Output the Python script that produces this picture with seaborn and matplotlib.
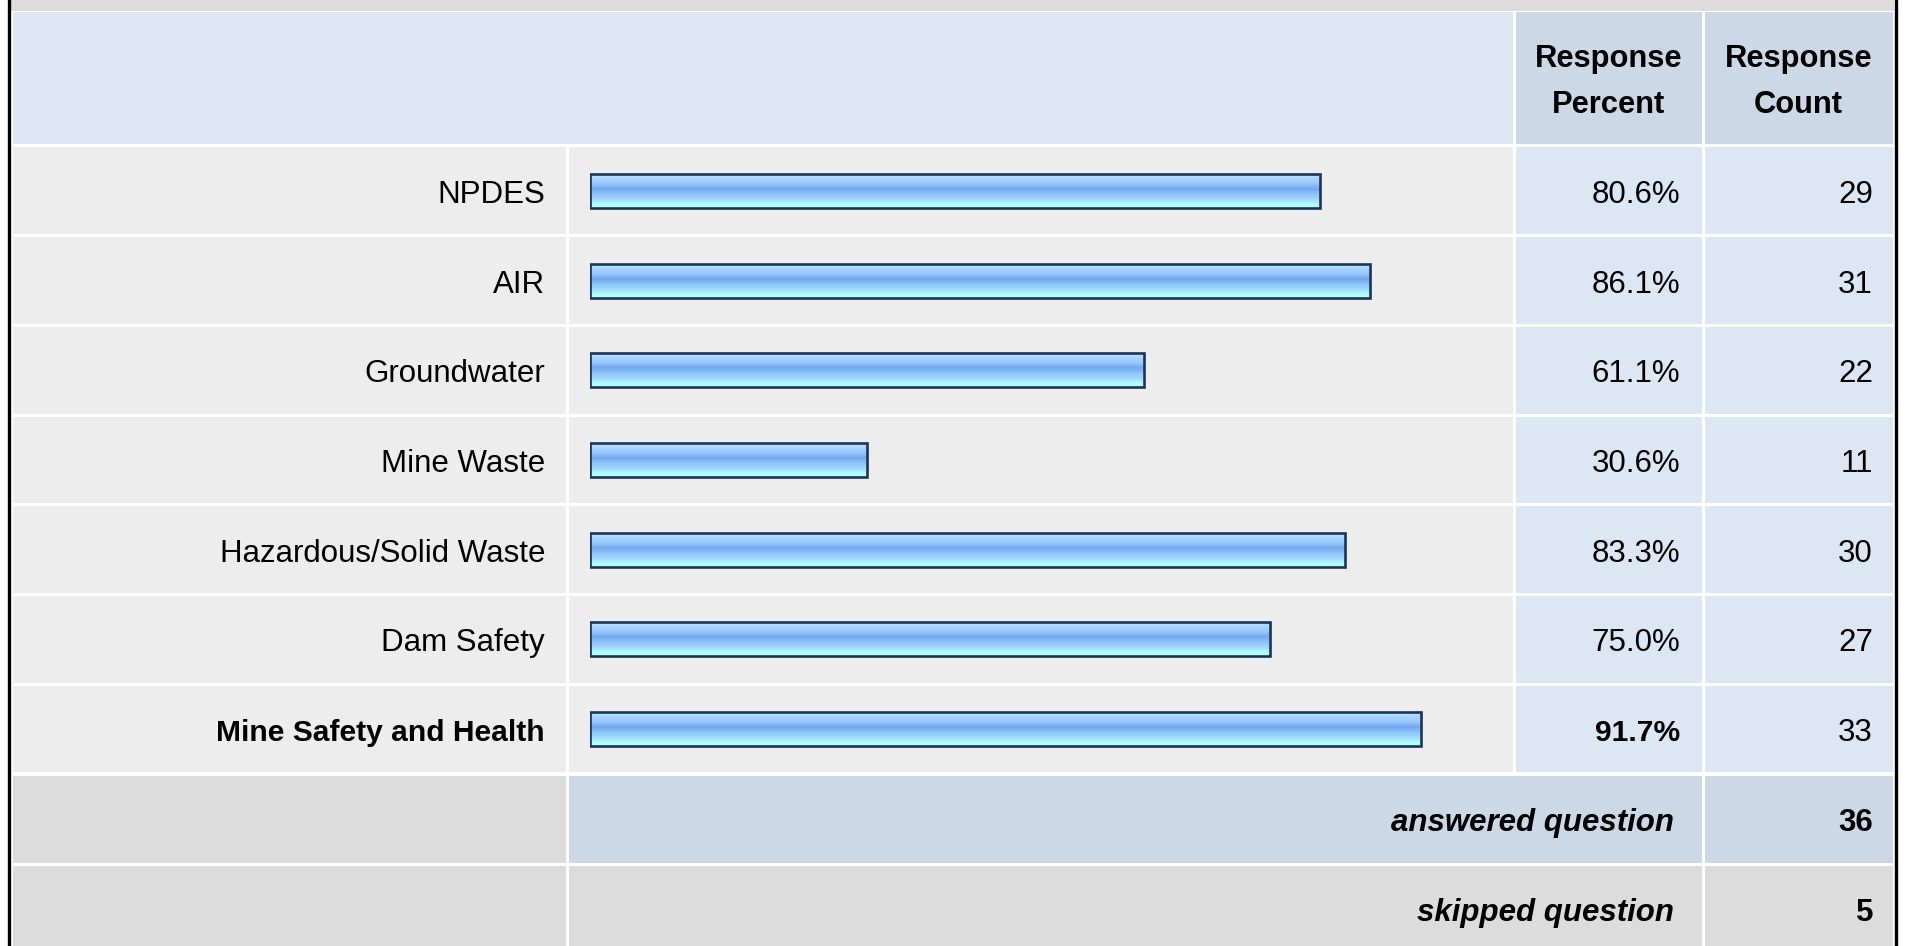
import numpy as np
import matplotlib as mpl
from matplotlib import pyplot as plt
from matplotlib.patches import Rectangle
from matplotlib.colors import LinearSegmentedColormap
import seaborn as sns
import pandas as pd

sns.set_style("white")
plt.rcParams['font.family'] = ['Liberation Sans', 'DejaVu Sans']
plt.rcParams['text.color'] = 'black'

categories = ["NPDES", "AIR", "Groundwater", "Mine Waste",
              "Hazardous/Solid Waste", "Dam Safety", "Mine Safety and Health"]
percents = [80.6, 86.1, 61.1, 30.6, 83.3, 75.0, 91.7]
counts = [29, 31, 22, 11, 30, 27, 33]
header_labels = ["Response\nPercent", "Response\nCount"]
answered = 36
skipped = 5

df = pd.DataFrame({'category': categories, 'percent': percents, 'count': counts})
top = int(np.argmax(percents))

W, H = 1909, 946
fig = plt.figure(figsize=(W / 100, H / 100), dpi=100)
fig.patch.set_facecolor('white')

# table background drawn in pixel coordinates
bg = fig.add_axes([0, 0, 1, 1])
bg.set_xlim(0, W)
bg.set_ylim(H, 0)
bg.axis('off')

cols = [11, 567, 1514, 1703, 1894]
row_top, row_h = 146, (774 - 146) / len(categories)
light_gray = '#ededed'
gray = '#dcdcdc'
pale_blue = '#dde7f4'
blue = '#ccd8e6'
fs = 22.5
dy = 4  # text sits a little below the cell centre


def cell(x0, x1, y0, y1, color):
    bg.add_patch(Rectangle((x0 + 1.5, y0 + 1.5), x1 - x0 - 3, y1 - y0 - 3,
                           facecolor=color, edgecolor='none'))


# top strip and header
bg.add_patch(Rectangle((cols[0], 0), cols[-1] - cols[0], 11, facecolor=gray, edgecolor='none'))
cell(cols[0], cols[2], 11, 146, pale_blue)
cell(cols[2], cols[3], 11, 146, blue)
cell(cols[3], cols[4], 11, 146, blue)
for i, lab in enumerate(header_labels):
    bg.text((cols[2 + i] + cols[3 + i]) / 2, 82, lab, ha='center', va='center',
            fontsize=fs - 0.3, fontweight='bold', linespacing=1.68)

# data rows
for i, row in df.iterrows():
    y0 = row_top + i * row_h
    y1 = y0 + row_h
    cell(cols[0], cols[1], y0, y1, light_gray)
    cell(cols[1], cols[2], y0, y1, light_gray)
    cell(cols[2], cols[3], y0, y1, pale_blue)
    cell(cols[3], cols[4], y0, y1, pale_blue)
    yc = (y0 + y1) / 2 + dy
    if i == top:
        w, s = 'bold', 21.6
    else:
        w, s = 'normal', fs
    bg.text(545, yc, row['category'], ha='right', va='center', fontsize=s, fontweight=w)
    bg.text(1680, yc, f"{row['percent']:.1f}%", ha='right', va='center', fontsize=s, fontweight=w)
    bg.text(1873, yc, f"{row['count']}", ha='right', va='center', fontsize=fs)

# summary rows
y0 = row_top + len(categories) * row_h
cell(cols[0], cols[1], y0, y0 + 90, gray)
cell(cols[1], cols[3], y0, y0 + 90, blue)
cell(cols[3], cols[4], y0, y0 + 90, blue)
bg.text(1674, y0 + 45 + dy, "answered question", ha='right', va='center', fontsize=fs,
        fontweight='bold', style='italic')
bg.text(1873, y0 + 45 + dy, str(answered), ha='right', va='center', fontsize=fs, fontweight='bold')
y0 += 90
cell(cols[0], cols[1], y0, y0 + 100, gray)
cell(cols[1], cols[3], y0, y0 + 100, gray)
cell(cols[3], cols[4], y0, y0 + 100, gray)
bg.text(1674, y0 + 45 + dy, "skipped question", ha='right', va='center', fontsize=fs,
        fontweight='bold', style='italic')
bg.text(1873, y0 + 45 + dy, str(skipped), ha='right', va='center', fontsize=fs, fontweight='bold')

# outer border
bg.plot([8.5, 8.5], [0, H], color='black', lw=2.4)
bg.plot([1896, 1896], [0, H], color='black', lw=2.4)

# bars
ax = fig.add_axes([590 / W, 1 - 774 / H, (1496 - 590) / W, (774 - 146) / H])
ax.patch.set_alpha(0)
sns.barplot(data=df, x='percent', y='category', orient='h', ax=ax,
            width=0.38, color='#8ec4fa', edgecolor='#1c3557', linewidth=1.9)
ax.set_xlim(0, 100)
ax.set_ylim(len(categories) - 0.5, -0.5)
ax.axis('off')

grad = LinearSegmentedColormap.from_list('bar', [
    (0.0, '#d2eaff'), (0.15, '#a8d4ff'), (0.3, '#98c8ff'), (0.45, '#72a8ee'),
    (0.6, '#8ec4fa'), (0.78, '#a4dcff'), (0.9, '#b0ffff'), (1.0, '#b0ffff')])
img = grad(np.linspace(0, 1, 64))[:, None, :]
for p in ax.patches:
    x0, yb, wd, ht = p.get_x(), p.get_y(), p.get_width(), p.get_height()
    im = ax.imshow(img, extent=(x0, x0 + wd, yb + ht, yb), aspect='auto',
                   origin='upper', zorder=p.get_zorder() - 0.1)
    im.set_clip_path(p)
    p.set_facecolor('none')
ax.set_xlim(0, 100)
ax.set_ylim(len(categories) - 0.5, -0.5)

fig.savefig('out.png', dpi=100)
